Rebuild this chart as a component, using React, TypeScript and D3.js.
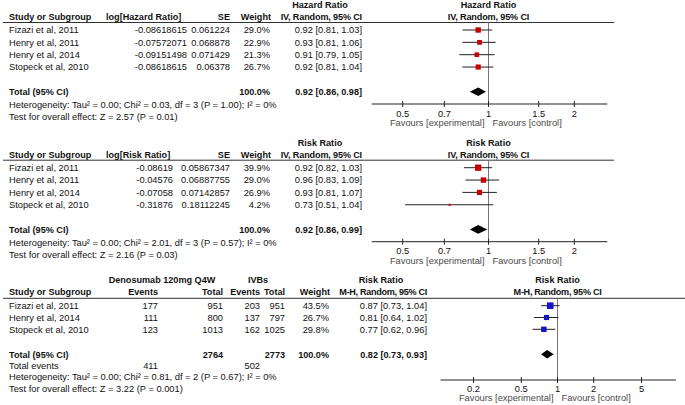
import React from "react";
import * as d3 from "d3";

// ---------- Panel 1 data (Hazard ratio) ----------
const studies1 = ["Fizazi et al, 2011", "Henry et al, 2011", "Henry et al, 2014", "Stopeck et al, 2010"];
const logHR1 = ["-0.08618615", "-0.07572071", "-0.09151498", "-0.08618615"];
const se1 = ["0.061224", "0.068878", "0.071429", "0.06378"];
const weight1 = [29.0, 22.9, 21.3, 26.7];
const est1 = [0.92, 0.93, 0.91, 0.92];
const lo1 = [0.81, 0.81, 0.79, 0.81];
const hi1 = [1.03, 1.06, 1.05, 1.04];
const total1 = [0.92, 0.86, 0.98];
const het1 = "Heterogeneity: Tau\u00b2 = 0.00; Chi\u00b2 = 0.03, df = 3 (P = 1.00); I\u00b2 = 0%";
const test1 = "Test for overall effect: Z = 2.57 (P = 0.01)";

// ---------- Panel 2 data (Risk ratio, IV) ----------
const studies2 = ["Fizazi et al, 2011", "Henry et al, 2011", "Henry et al, 2014", "Stopeck et al, 2010"];
const logRR2 = ["-0.08619", "-0.04576", "-0.07058", "-0.31876"];
const se2 = ["0.05867347", "0.06887755", "0.07142857", "0.18112245"];
const weight2 = [39.9, 29.0, 26.9, 4.2];
const est2 = [0.92, 0.96, 0.93, 0.73];
const lo2 = [0.82, 0.83, 0.81, 0.51];
const hi2 = [1.03, 1.09, 1.07, 1.04];
const total2 = [0.92, 0.86, 0.99];
const het2 = "Heterogeneity: Tau\u00b2 = 0.00; Chi\u00b2 = 2.01, df = 3 (P = 0.57); I\u00b2 = 0%";
const test2 = "Test for overall effect: Z = 2.16 (P = 0.03)";

// ---------- Panel 3 data (Risk ratio, M-H) ----------
const studies3 = ["Fizazi et al, 2011", "Henry et al, 2014", "Stopeck et al, 2010"];
const evD = [177, 111, 123];
const totD = [951, 800, 1013];
const evI = [203, 137, 162];
const totI = [951, 797, 1025];
const weight3 = [43.5, 26.7, 29.8];
const est3 = [0.87, 0.81, 0.77];
const lo3 = [0.73, 0.64, 0.62];
const hi3 = [1.04, 1.02, 0.96];
const total3 = [0.82, 0.73, 0.93];
const totals3 = [2764, 2773];
const totalEvents3 = [411, 502];
const het3 = "Heterogeneity: Tau\u00b2 = 0.00; Chi\u00b2 = 0.81, df = 2 (P = 0.67); I\u00b2 = 0%";
const test3 = "Test for overall effect: Z = 3.22 (P = 0.001)";

const ticksA = [0.5, 0.7, 1, 1.5, 2];
const ticksB = [0.2, 0.5, 1, 2, 5];

const FONT = "'Liberation Sans', Arial, Helvetica, sans-serif";
const FS = 9.3;
const FSB = 9.1;
const DY = 3.3;

const fmt2 = (v: number) => v.toFixed(2);
const ciText = (e: number, l: number, h: number) => `${fmt2(e)} [${fmt2(l)}, ${fmt2(h)}]`;

function T(props: any) {
  const { x, y, children, anchor = "start", bold = false, fill = "#111", ls = 0 } = props;
  return (
    <text x={x} y={y + DY} fontSize={bold ? FSB : FS} fontFamily={FONT} fontWeight={bold ? "bold" : "normal"}
      textAnchor={anchor} fill={fill} letterSpacing={ls}>
      {children}
    </text>
  );
}

const sizeScale = d3.scaleSqrt().domain([0, 100]).range([0, 10]);

function Plot(props: any) {
  const { x, lineTop, rowY, est, lo, hi, weight, color, total, totalY, axisY, ticks, tickY, favY, ax0, ax1 } = props;
  const x1 = x(1);
  const [te, tl, th] = total;
  const dh = 4.3;
  const diamond = d3.line()([
    [x(tl), totalY],
    [x(te), totalY - dh],
    [x(th), totalY],
    [x(te), totalY + dh],
  ]) + "Z";
  return (
    <g>
      <line x1={x1} x2={x1} y1={lineTop} y2={axisY} stroke="#777" strokeWidth={1} />
      {est.map((e: number, i: number) => {
        const s = sizeScale(weight[i]);
        return (
          <g key={i}>
            <line x1={x(lo[i])} x2={x(hi[i])} y1={rowY[i]} y2={rowY[i]} stroke="#222" strokeWidth={1} />
            <rect x={x(e) - s / 2} y={rowY[i] - s / 2} width={s} height={s} fill={color} />
          </g>
        );
      })}
      <path d={diamond} fill="#000" />
      <line x1={ax0} x2={ax1} y1={axisY} y2={axisY} stroke="#222" strokeWidth={1} />
      {ticks.map((t: number) => (
        <g key={t}>
          <line x1={x(t)} x2={x(t)} y1={axisY - 3} y2={axisY + 3} stroke="#222" strokeWidth={1} />
          <T x={x(t)} y={tickY} anchor="middle">{String(t)}</T>
        </g>
      ))}
      <T x={x1 - 4} y={favY} anchor="end" fill="#4a4a4a">Favours [experimental]</T>
      <T x={x1 + 4} y={favY} anchor="start" fill="#4a4a4a">Favours [control]</T>
    </g>
  );
}

function PanelIV(props: any) {
  const { y0, title, logHeader, logRight, studies, logs, ses, weights, est, lo, hi, total, het, test, color } = props;
  const hdr1 = y0 + 5, hdr2 = y0 + 16.5, lineY = y0 + 22.5;
  const rowY = studies.map((_: any, i: number) => y0 + 30 + i * 12.35);
  const totalY = y0 + 91.7, hetY = y0 + 104.8, testY = y0 + 116.8;
  const axisY = y0 + 104, tickY = y0 + 113.3, favY = y0 + 123;
  const x = d3.scaleLog().domain([0.5, 2]).range([402.7, 574.3]);
  const colR = 362, colW = 270, colSE = 230;
  const ciHdrW = 84;
  return (
    <g>
      <T x={colR - ciHdrW / 2} y={hdr1} anchor="middle" bold>{title}</T>
      <T x={x(1)} y={hdr1} anchor="middle" bold>{title}</T>
      <T x={9} y={hdr2} bold>Study or Subgroup</T>
      <T x={106} y={hdr2} bold>{logHeader}</T>
      <T x={colSE} y={hdr2} anchor="end" bold>SE</T>
      <T x={colW + 1} y={hdr2} anchor="end" bold>Weight</T>
      <T x={colR} y={hdr2} anchor="end" bold ls={-0.15}>IV, Random, 95% CI</T>
      <T x={x(1)} y={hdr2} anchor="middle" bold ls={-0.15}>IV, Random, 95% CI</T>
      <line x1={3} x2={614} y1={lineY} y2={lineY} stroke="#333" strokeWidth={1} />
      {studies.map((s: string, i: number) => (
        <g key={s + i}>
          <T x={9} y={rowY[i]}>{s}</T>
          <T x={logRight} y={rowY[i]} anchor="end">{logs[i]}</T>
          <T x={colSE} y={rowY[i]} anchor="end">{ses[i]}</T>
          <T x={colW} y={rowY[i]} anchor="end">{weights[i].toFixed(1) + "%"}</T>
          <T x={colR} y={rowY[i]} anchor="end">{ciText(est[i], lo[i], hi[i])}</T>
        </g>
      ))}
      <T x={9} y={totalY} bold>Total (95% CI)</T>
      <T x={colW} y={totalY} anchor="end" bold>100.0%</T>
      <T x={colR} y={totalY} anchor="end" bold>{ciText(total[0], total[1], total[2])}</T>
      <T x={9} y={hetY}>{het}</T>
      <T x={9} y={testY}>{test}</T>
      <Plot x={x} lineTop={lineY} rowY={rowY} est={est} lo={lo} hi={hi} weight={weights} color={color}
        total={total} totalY={totalY} axisY={axisY} ticks={ticksA} tickY={tickY} favY={favY} ax0={371.7} ax1={607.3} />
    </g>
  );
}

function Panel3() {
  const hdr1 = 280, hdr2 = 291.5, lineY = 298.3;
  const rowY = studies3.map((_, i) => 305.7 + i * 11.8);
  const totalY = 354.3, evY = 366, hetY = 377, testY = 388.5;
  const axisY = 380, tickY = 388.5, favY = 397.5;
  const x = d3.scaleLog().domain([0.2, 5]).range([473.5, 641.5]);
  const cEvD = 158, cTotD = 223, cEvI = 260, cTotI = 285, cW = 329, cR = 427;
  return (
    <g>
      <T x={162} y={hdr1} anchor="middle" bold>Denosumab 120mg Q4W</T>
      <T x={258} y={hdr1} anchor="middle" bold>IVBs</T>
      <T x={cR - 46} y={hdr1} anchor="middle" bold>Risk Ratio</T>
      <T x={x(1)} y={hdr1} anchor="middle" bold>Risk Ratio</T>
      <T x={9} y={hdr2} bold>Study or Subgroup</T>
      <T x={cEvD} y={hdr2} anchor="end" bold>Events</T>
      <T x={cTotD} y={hdr2} anchor="end" bold>Total</T>
      <T x={cEvI} y={hdr2} anchor="end" bold>Events</T>
      <T x={cTotI} y={hdr2} anchor="end" bold>Total</T>
      <T x={cW + 1} y={hdr2} anchor="end" bold>Weight</T>
      <T x={cR} y={hdr2} anchor="end" bold ls={-0.3}>M-H, Random, 95% CI</T>
      <T x={x(1)} y={hdr2} anchor="middle" bold ls={-0.3}>M-H, Random, 95% CI</T>
      <line x1={3} x2={685} y1={lineY} y2={lineY} stroke="#333" strokeWidth={1} />
      {studies3.map((s, i) => (
        <g key={s}>
          <T x={9} y={rowY[i]}>{s}</T>
          <T x={cEvD} y={rowY[i]} anchor="end">{String(evD[i])}</T>
          <T x={cTotD} y={rowY[i]} anchor="end">{String(totD[i])}</T>
          <T x={cEvI} y={rowY[i]} anchor="end">{String(evI[i])}</T>
          <T x={cTotI} y={rowY[i]} anchor="end">{String(totI[i])}</T>
          <T x={cW} y={rowY[i]} anchor="end">{weight3[i].toFixed(1) + "%"}</T>
          <T x={cR} y={rowY[i]} anchor="end">{ciText(est3[i], lo3[i], hi3[i])}</T>
        </g>
      ))}
      <T x={9} y={totalY} bold>Total (95% CI)</T>
      <T x={cTotD} y={totalY} anchor="end" bold>{String(totals3[0])}</T>
      <T x={cTotI} y={totalY} anchor="end" bold>{String(totals3[1])}</T>
      <T x={cW} y={totalY} anchor="end" bold>100.0%</T>
      <T x={cR} y={totalY} anchor="end" bold>{ciText(total3[0], total3[1], total3[2])}</T>
      <T x={9} y={evY}>Total events</T>
      <T x={cEvD} y={evY} anchor="end">{String(totalEvents3[0])}</T>
      <T x={cEvI} y={evY} anchor="end">{String(totalEvents3[1])}</T>
      <T x={9} y={hetY}>{het3}</T>
      <T x={9} y={testY}>{test3}</T>
      <Plot x={x} lineTop={lineY} rowY={rowY} est={est3} lo={lo3} hi={hi3} weight={weight3} color="#1414C8"
        total={total3} totalY={totalY} axisY={axisY} ticks={ticksB} tickY={tickY} favY={favY} ax0={440.5} ax1={676} />
    </g>
  );
}

export default function App() {
  return (
    <svg width={685} height={405} style={{ position: "absolute", left: 0, top: 0, background: "#fff" }}>
      <rect x={0} y={0} width={685} height={405} fill="#fff" />
      <PanelIV y0={0} title="Hazard Ratio" logHeader="log[Hazard Ratio]" logRight={187} studies={studies1} logs={logHR1}
        ses={se1} weights={weight1} est={est1} lo={lo1} hi={hi1} total={total1} het={het1} test={test1} color="#C80000" />
      <PanelIV y0={137.7} title="Risk Ratio" logHeader="log[Risk Ratio]" logRight={173} studies={studies2} logs={logRR2}
        ses={se2} weights={weight2} est={est2} lo={lo2} hi={hi2} total={total2} het={het2} test={test2} color="#C80000" />
      <Panel3 />
    </svg>
  );
}
